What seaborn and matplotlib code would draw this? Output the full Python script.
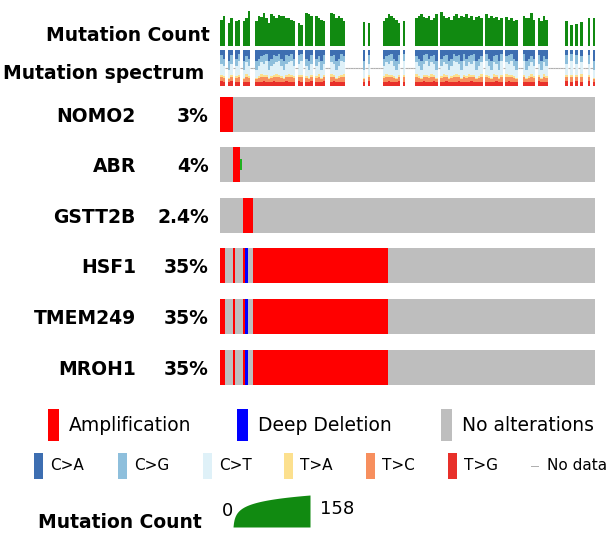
import numpy as np
import pandas as pd
import matplotlib
matplotlib.use("Agg")
import matplotlib.pyplot as plt
from matplotlib.colors import ListedColormap
from matplotlib.patches import Rectangle
import seaborn as sns

nan = np.nan

genes = ["NOMO2", "ABR", "GSTT2B", "HSF1", "TMEM249", "MROH1"]
gene_freqs = ["3%", "4%", "2.4%", "35%", "35%", "35%"]

# alteration runs per gene as (state, number of samples)
# 0 = no alteration, 1 = amplification, 2 = deep deletion, 3 = missense
nomo2_runs = [(1, 5), (0, 145)]
abr_runs = [(0, 5), (1, 3), (3, 1), (0, 141)]
gstt2b_runs = [(0, 9), (1, 4), (0, 137)]
hsf1_runs = [(1, 2), (0, 3), (1, 1), (0, 3), (1, 1), (2, 1), (0, 2), (1, 54), (0, 83)]
tmem249_runs = [(1, 2), (0, 3), (1, 1), (0, 3), (1, 1), (2, 1), (0, 2), (1, 54), (0, 83)]
mroh1_runs = [(1, 2), (0, 3), (1, 1), (0, 3), (1, 1), (2, 1), (0, 2), (1, 54), (0, 83)]
gene_runs = [nomo2_runs, abr_runs, gstt2b_runs, hsf1_runs, tmem249_runs, mroh1_runs]

# mutation count per sample (nan = no data)
mutation_count = [
    44, 74, nan, 26, 57, nan, 34, 44, nan, 34, 57, 150, nan, nan,
    34, 74, 65, 110, 57, 26,
    95, 74, 57, 90,
    74, 80, 57, 57, 44, 34,
    nan, 26, 20, nan,
    110, 95, 74, nan, 74, 57, 44, 34,
    nan, nan,
    110, 95, 57, 74, 57, 34,
    nan, nan, nan, nan, nan, nan, nan,
    30, nan, 28,
    nan, nan, nan, nan, nan,
    34, 57, 95, 74, 57, 44, 26, nan, 34,
    nan, nan, nan, nan,
    57, 74, 95, 65, 57, 74, 44, 57, 95, nan,
    130, 74, 57, 65, 44,
    74, 95, 57, 74, 65, 95, 57, 74, 44, 65, 74, 57, nan,
    95, 57,
    74, 57, 65, 44, 57, nan,
    65, 44, 57, 34, 44, nan, nan,
    74, 57, 57, 110, 44, nan,
    57, 34, 74, 44,
    nan, nan, nan, nan, nan, nan, nan,
    34, nan, 20, nan, 24, nan, 30, nan, nan, 57, nan, 57,
]
count_max = 158

spectrum_types = ["C>A", "C>G", "C>T", "T>A", "T>C", "T>G"]
spectrum_colors = ["#3d6eb1", "#8ebfdc", "#dff1f8", "#fce08e", "#f78f5e", "#e8302a"]
spectrum_profiles = [
    [0.15, 0.25, 0.30, 0.05, 0.12, 0.13],
    [0.25, 0.20, 0.28, 0.05, 0.10, 0.12],
    [0.10, 0.20, 0.40, 0.06, 0.12, 0.12],
    [0.30, 0.25, 0.22, 0.04, 0.09, 0.10],
    [0.18, 0.15, 0.35, 0.07, 0.13, 0.12],
]
sample_profile = ("0123041203" "4102314023" "1042130421" "3024130214" "3021403124"
                  "0312041320" "4102314021" "3042103241" "3021403214" "0312403214"
                  "0231402134" "0321402134" "0231412034" "1203421304" "2103412043")

W, H = 613, 536
GREEN = "#118a11"
state_colors = ["#bebebe", "#ff0000", "#0000ff"]

sns.set_theme(style="white")
plt.rcParams["font.family"] = ["DejaVu Sans"]
plt.rcParams["text.color"] = "black"

fig = plt.figure(figsize=(W / 100, H / 100), dpi=100)


def px_axes(x0, y0, x1, y1):
    return fig.add_axes([x0 / W, 1 - y1 / H, (x1 - x0) / W, (y1 - y0) / H])


def px_text(x, y, s, **kw):
    fig.text(x / W, 1 - y / H, s, color="black", **kw)


def px_rect(x0, y0, x1, y1, color):
    fig.add_artist(Rectangle((x0 / W, 1 - y1 / H), (x1 - x0) / W, (y1 - y0) / H,
                             transform=fig.transFigure, color=color, lw=0))


counts = np.array(mutation_count, dtype=float)
n = len(counts)
samples = np.arange(n)
x_left, x_right = 220, 595

# mutation count track (log scale)
ax = px_axes(x_left, 11, x_right, 46)
heights = np.log10(np.nan_to_num(counts) + 1)
sns.barplot(x=samples, y=heights, order=samples, color=GREEN, width=1,
            saturation=1, errorbar=None, linewidth=0, ax=ax)
ax.set_xlim(-0.5, n - 0.5)
ax.set_ylim(0, np.log10(count_max + 1))
ax.axis("off")

# mutation spectrum track
rows = []
for i in samples:
    if np.isnan(counts[i]):
        continue
    for t, f in zip(spectrum_types, spectrum_profiles[int(sample_profile[i])]):
        rows.append((i, t, f))
spec = pd.DataFrame(rows, columns=["sample", "type", "frac"])
ax = px_axes(x_left, 50, x_right, 86)
sns.histplot(data=spec, x="sample", hue="type", weights="frac", multiple="stack",
             discrete=True, shrink=1, hue_order=spectrum_types,
             palette=dict(zip(spectrum_types, spectrum_colors)),
             linewidth=0, alpha=1, legend=False, antialiased=False, ax=ax)
nd = samples[np.isnan(counts)]
ax.hlines(np.full(len(nd), 0.5), nd - 0.5, nd + 0.5, color="#b0b0b0", lw=0.8)
ax.set_xlim(-0.5, n - 0.5)
ax.set_ylim(0, 1)
ax.axis("off")

px_text(210, 41, "Mutation Count", ha="right", va="baseline", fontsize=13.5, fontweight="bold")
px_text(204, 79, "Mutation spectrum", ha="right", va="baseline", fontsize=13.5, fontweight="bold")

# gene rows
row_tops = [97, 147, 198, 248, 299, 350]
for gene, freq, runs, top in zip(genes, gene_freqs, gene_runs, row_tops):
    states = np.concatenate([np.full(k, s) for s, k in runs])
    base = np.where(states == 3, 0, states)
    ax = px_axes(x_left, top, x_right, top + 35)
    sns.heatmap(pd.DataFrame([base]), ax=ax, cmap=ListedColormap(state_colors),
                vmin=-0.5, vmax=2.5, cbar=False, xticklabels=False, yticklabels=False)
    mis = np.where(states == 3)[0]
    if len(mis):
        ax.bar(mis + 0.5, 0.34, bottom=0.33, width=0.8, color="#1fb01f", lw=0)
    ax.axis("off")
    px_text(136, top + 25, gene, ha="right", va="baseline", fontsize=13.5, fontweight="bold")
    px_text(209, top + 25, freq, ha="right", va="baseline", fontsize=13.5, fontweight="bold")

# legend: alterations
for x0, color, label in [(48, "#ff0000", "Amplification"),
                         (237, "#0000ff", "Deep Deletion"),
                         (441, "#bebebe", "No alterations")]:
    px_rect(x0, 409, x0 + 11, 441, color)
    px_text(x0 + 21, 431, label, ha="left", va="baseline", fontsize=13.5)

# legend: spectrum
for x0, color, label in zip([34, 118, 203, 284, 366, 448], spectrum_colors, spectrum_types):
    px_rect(x0, 453, x0 + 9, 479, color)
    px_text(x0 + 16, 470.5, label, ha="left", va="baseline", fontsize=11)
px_rect(531, 465.5, 539, 466.5, "#b0b0b0")
px_text(547, 470.5, "No data", ha="left", va="baseline", fontsize=11)

# legend: mutation count scale
px_text(202, 528, "Mutation Count", ha="right", va="baseline", fontsize=13.5, fontweight="bold")
ax = px_axes(233, 495, 310, 527)
scale = np.arange(count_max + 1)
ax.fill_between(scale, 0, np.log10(scale + 1), color=GREEN, lw=0)
ax.set_xlim(0, count_max)
ax.set_ylim(0, np.log10(count_max + 1))
ax.axis("off")
px_text(233, 516, "0", ha="right", va="baseline", fontsize=13)
px_text(320, 514, "158", ha="left", va="baseline", fontsize=13)

fig.savefig("out.png", dpi=100)
